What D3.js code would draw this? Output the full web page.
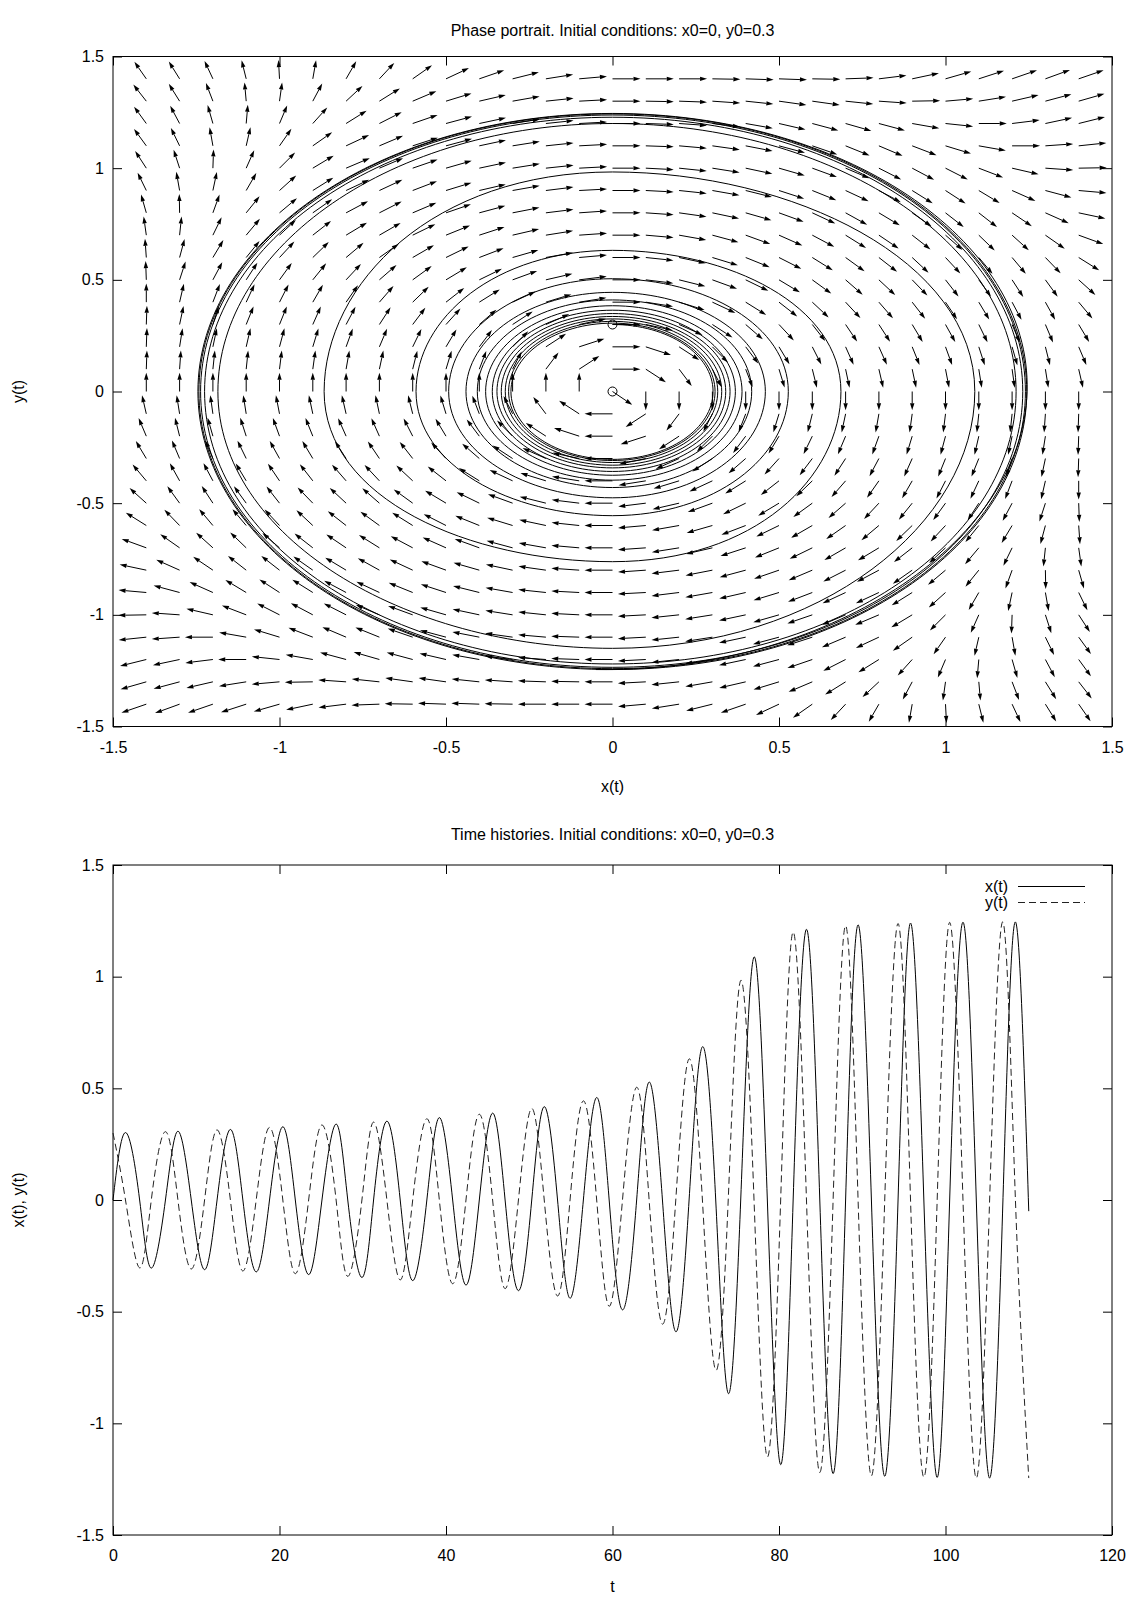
<!DOCTYPE html>
<html>
<head>
<meta charset="utf-8">
<script src="https://cdn.jsdelivr.net/npm/d3@7"></script>
<style>
body { margin: 0; background: #fff; }
svg text { font-family: "Liberation Sans", Arial, sans-serif; font-size: 16px; fill: #000; }
.tick line { stroke: #000; }
</style>
</head>
<body>
<svg id="chart" width="1139" height="1604"></svg>
<script>
// ---- data ----

// vector field grid (x left->right, y top->bottom)
const gridX = [-1.4,-1.3,-1.2,-1.1,-1.0,-0.9,-0.8,-0.7,-0.6,-0.5,-0.4,-0.3,-0.2,-0.1,0,
               0.1,0.2,0.3,0.4,0.5,0.6,0.7,0.8,0.9,1.0,1.1,1.2,1.3,1.4];
const gridY = [1.4,1.3,1.2,1.1,1.0,0.9,0.8,0.7,0.6,0.5,0.4,0.3,0.2,0.1,0,
               -0.1,-0.2,-0.3,-0.4,-0.5,-0.6,-0.7,-0.8,-0.9,-1.0,-1.1,-1.2,-1.3,-1.4];

// on-screen direction of each arrow, degrees (0 = right, 90 = up)
const arrowAngle = [
 [125,122,115,104,93,80,60, 47,35,25,19,14,9,5, 0, 0,0,-1,-2,-2,-1,2, 7,12,16,18,19,20,19],
 [128,122,111,95,82,62,43, 32,23,17,13,10,6,3, 0, -1,-2,-4,-6,-8,-8,-6, -4,1,5,9,13,15,16],
 [126,118,106,85,67,48,32, 27,19,15,12,9,6,3, 0, -2,-4,-7,-10,-13,-15,-16, -15,-10,-6,0,7,12,14],
 [126,116,100,77,55,35,25, 23,18,15,12,9,6,3, 0, -2,-5,-8,-11,-15,-19,-22, -23,-21,-17,-10,0,4,6],
 [123,108,88,66,45,31,23, 23,19,16,12,9,6,3, 0, -3,-6,-9,-12,-16,-20,-23, -27,-28,-27,-21,-13,-4,1],
 [116,100,78,60,42,32,25, 25,21,17,13,10,7,3, 0, -3,-6,-10,-14,-18,-22,-25, -28,-32,-33,-31,-24,-15,-5],
 [106,91,70,51,40,35,28, 27,23,19,15,11,7,4, 0, -4,-8,-12,-16,-20,-25,-29, -31,-35,-38,-38,-34,-24,-12],
 [98,84,64,50,43,38,31, 30,26,22,18,13,9,4, 0, -5,-10,-15,-20,-24,-28,-32, -34,-38,-41,-44,-42,-35,-20],
 [94,75,59,51,47,44,40, 35,30,26,21,16,10,5, 0, -6,-12,-17,-22,-27,-32,-36, -38,-43,-47,-50,-50,-46,-32],
 [92,72,62,57,54,51,47, 41,36,31,26,20,13,7, 0, -7,-14,-20,-26,-31,-36,-41, -43,-46,-52,-54,-57,-54,-42],
 [90,77,69,65,63,60,55, 49,44,38,32,25,17,9, 0, -9,-17,-25,-32,-38,-43,-47, -49,-52,-56,-59,-62,-61,-50],
 [88,78,72,68,68,66,62, 57,53,48,41,33,24,12, 0, -12,-24,-33,-41,-47,-52,-56, -57,-59,-61,-64,-67,-67,-59],
 [88,81,78,77,75,73,70, 67,64,59,53,45,33,18, 0, -18,-33,-45,-53,-59,-63,-66, -66,-68,-70,-72,-74,-76,-67],
 [88,86,84,84,83,82,80, 78,76,73,69,63,53,33, 0, -33,-53,-63,-69,-73,-76,-78, -77,-78,-79,-81,-82,-81,-77],
 [90,90,90,90,90,90,90, 90,90,90,90,90,90,90, -34, -90,-90,-90,-90,-90,-90,-90, -90,-90,-90,-90,-90,-90,-90],
 [103,99,98,99,101,102,103, 102,104,107,111,117,127,147, 180, -147,-127,-117,-111,-107,-104,-102, -100,-98,-97,-96,-96,-94,-92],
 [113,104,106,108,110,112,114, 114,117,121,127,135,147,162, 180, -162,-147,-135,-127,-121,-116,-113, -110,-107,-105,-103,-102,-99,-92],
 [121,113,113,116,119,121,123, 124,128,133,139,147,156,168, 180, -168,-156,-147,-139,-132,-127,-123, -118,-114,-112,-112,-108,-102,-92],
 [130,119,118,121,124,128,131, 133,137,142,148,155,163,171, 180, -171,-163,-155,-148,-142,-136,-131, -125,-120,-117,-115,-111,-103,-90],
 [138,126,123,126,128,134,137, 139,144,149,154,160,166,173, 180, -173,-167,-160,-154,-149,-144,-139, -133,-129,-126,-123,-118,-108,-88],
 [148,134,130,130,133,137,142, 144,148,153,158,163,168,174, 180, -175,-170,-164,-159,-154,-150,-145, -140,-136,-133,-129,-121,-105,-86],
 [160,145,138,136,139,142,146, 148,152,156,160,165,170,175, 180, -176,-171,-167,-162,-158,-154,-150, -149,-142,-137,-130,-116,-96,-82],
 [168,156,146,142,142,145,149, 151,155,160,164,168,172,176, 180, -176,-173,-169,-165,-161,-157,-153, -152,-145,-140,-129,-110,-89,-74],
 [175,165,156,149,147,148,152, 155,158,162,166,170,174,177, 180, -177,-173,-170,-167,-163,-159,-155, -155,-148,-138,-120,-102,-80,-64],
 [181,176,167,159,153,152,153, 157,160,164,168,171,174,177, 180, -177,-174,-171,-168,-164,-161,-157, -157,-149,-135,-114,-92,-72,-57],
 [186,184,180,170,163,159,157, 158,161,165,169,172,175,178, 180, -177,-174,-171,-168,-165,-162,-157, -155,-145,-125,-103,-80,-64,-54],
 [194,192,187,180,174,170,165, 164,165,167,170,173,176,178, 180, -177,-174,-171,-168,-165,-161,-153, -148,-132,-113,-95,-74,-62,-54],
 [196,195,193,189,185,181,176, 174,172,172,174,176,178,179, 180, -177,-174,-170,-167,-163,-157,-148, -137,-118,-98,-85,-69,-58,-52],
 [199,200,199,198,196,192,187, 182,179,178,178,179,180,180, 180, -175,-171,-166,-161,-155,-145,-133, -120,-100,-87,-76,-65,-58,-55]
];

// trajectory, sampled at its quarter-turn points (axis crossings / extrema)
const trajT = [0.0,1.5,3.2,4.6,6.3,7.8,9.4,11.0,12.5,14.1,15.6,17.2,18.8,20.4,21.9,23.5,25.1,26.8,28.2,29.9,
  31.3,32.9,34.5,36.0,37.7,39.2,40.8,42.4,44.0,45.6,47.1,48.7,50.3,51.8,53.4,54.9,56.5,58.1,59.6,61.2,
  62.9,64.4,66.0,67.6,69.2,70.8,72.4,73.9,75.4,77.0,78.6,80.2,81.7,83.3,84.9,86.5,88.0,89.5,91.1,92.7,
  94.3,95.8,97.4,99.0,100.5,102.1,103.7,105.3,106.9,108.4,110.0];
const trajX = [0,0.302,0,-0.305,0,0.308,0,-0.312,0,0.316,0,-0.322,0,0.328,0,-0.334,0,0.340,0,-0.347,
  0,0.353,0,-0.361,0,0.369,0,-0.381,0,0.389,0,-0.406,0,0.418,0,-0.440,0,0.459,0,-0.492,
  0,0.528,0,-0.590,0,0.686,0,-0.866,0,1.088,0,-1.185,0,1.212,0,-1.225,0,1.232,0,-1.237,
  0,1.240,0,-1.242,0,1.244,0,-1.245,0,1.245,-0.05];
const trajY = [0.300,0,-0.304,0,0.306,0,-0.309,0,0.314,0,-0.318,0,0.325,0,-0.330,0,0.336,0,-0.342,0,
  0.349,0,-0.358,0,0.364,0,-0.375,0,0.384,0,-0.397,0,0.410,0,-0.430,0,0.444,0,-0.476,0,
  0.505,0,-0.556,0,0.632,0,-0.762,0,0.983,0,-1.150,0,1.200,0,-1.220,0,1.228,0,-1.235,0,
  1.238,0,-1.241,0,1.243,0,-1.245,0,1.245,0,-1.245];

// marked points: initial condition and origin
const markX = [0, 0];
const markY = [0.3, 0];

const phaseTicks = [-1.5,-1,-0.5,0,0.5,1,1.5];
const timeTicks = [0,20,40,60,80,100,120];

// ---- layout ----
const svg = d3.select("#chart");
const box1 = {left:113, right:1112, top:56.5, bottom:726.5};
const box2 = {left:113, right:1112, top:865, bottom:1535};

const x1 = d3.scaleLinear().domain([-1.5,1.5]).range([box1.left, box1.right]);
const y1 = d3.scaleLinear().domain([-1.5,1.5]).range([box1.bottom, box1.top]);
const t2 = d3.scaleLinear().domain([0,120]).range([box2.left, box2.right]);
const y2 = d3.scaleLinear().domain([-1.5,1.5]).range([box2.bottom, box2.top]);

function frame(xs, ys, xt, yt, box)
{
    let g = svg.append("g");
    let fmt = d => String(d);

    g.append("g").attr("transform", "translate(0," + box.bottom + ")")
     .call(d3.axisBottom(xs).tickValues(xt).tickSize(-9).tickPadding(15).tickFormat(fmt));
    g.append("g").attr("transform", "translate(0," + box.top + ")")
     .call(d3.axisTop(xs).tickValues(xt).tickSize(-9).tickFormat(""));
    g.append("g").attr("transform", "translate(" + box.left + ",0)")
     .call(d3.axisLeft(ys).tickValues(yt).tickSize(-9).tickPadding(9).tickFormat(fmt));
    g.append("g").attr("transform", "translate(" + box.right + ",0)")
     .call(d3.axisRight(ys).tickValues(yt).tickSize(-9).tickFormat(""));

    g.selectAll(".domain").remove();
    g.selectAll(".tick text").attr("font-size", 16).attr("font-family", "Liberation Sans, Arial, sans-serif");

    g.append("rect")
     .attr("x", box.left).attr("y", box.top)
     .attr("width", box.right - box.left).attr("height", box.bottom - box.top)
     .attr("fill", "none").attr("stroke", "#000").attr("stroke-width", 1);
}

// curve for the spiral: cubic pieces through the quarter-turn samples,
// end pieces mirrored from their neighbour so they stay round
function spiralCurve(context)
{
    let pts = [];
    const k = 0.276;
    const ox = x1(0), oy = y1(0);

    function mirror(c, a, b)
    {
        let mx = (a[0] + b[0]) / 2, my = (a[1] + b[1]) / 2;
        let ux = ox - mx, uy = oy - my;
        let vx = b[0] - a[0], vy = b[1] - a[1];
        let qx = c[0] - mx, qy = c[1] - my;
        let det = ux * vy - uy * vx;
        let al = (qx * vy - qy * vx) / det;
        let be = (ux * qy - uy * qx) / det;
        return [mx + al * ux - be * vx, my + al * uy - be * vy];
    }

    return {
        areaStart: function(){}, areaEnd: function(){},
        lineStart: function(){ pts = []; },
        point: function(x, y){ pts.push([+x, +y]); },
        lineEnd: function(){
            let n = pts.length;
            if(!n) return;
            context.moveTo(pts[0][0], pts[0][1]);
            for (let i = 0; i < n - 1; i++) {
                let a = pts[i], b = pts[i + 1], c1 = null, c2 = null;
                if (i > 0)
                    c1 = [a[0] + k * (b[0] - pts[i - 1][0]), a[1] + k * (b[1] - pts[i - 1][1])];
                if (i < n - 2)
                    c2 = [b[0] - k * (pts[i + 2][0] - a[0]), b[1] - k * (pts[i + 2][1] - a[1])];
                if (!c1 && c2) c1 = mirror(c2, a, b);
                if (!c2 && c1) c2 = mirror(c1, a, b);
                if (!c1 && !c2) { context.lineTo(b[0], b[1]); continue; }
                context.bezierCurveTo(c1[0], c1[1], c2[0], c2[1], b[0], b[1]);
            }
        }
    };
}

// ---- phase portrait ----
frame(x1, y1, phaseTicks, phaseTicks, box1);

const arrowLen = 0.084;
const pxX = x1(1) - x1(0);
const pxY = y1(0) - y1(1);
let field = svg.append("g");

arrowAngle.forEach(function(row, i){
    row.forEach(function(a, j){
        if(a === null) return;
        let r = a * Math.PI / 180;
        let ux = Math.cos(r) / pxX, uy = Math.sin(r) / pxY;
        let n = Math.hypot(ux, uy);
        let gx = gridX[j], gy = gridY[i];
        let xa = x1(gx), ya = y1(gy);
        let xb = x1(gx + arrowLen * ux / n), yb = y1(gy + arrowLen * uy / n);
        let len = Math.hypot(xb - xa, yb - ya);
        let dx = (xb - xa) / len, dy = (yb - ya) / len;
        let hl = 7, hw = 2.2;
        let bx = xb - hl * dx, by = yb - hl * dy;

        field.append("line")
          .attr("x1", xa).attr("y1", ya).attr("x2", bx).attr("y2", by)
          .attr("stroke", "#000").attr("stroke-width", 1);
        field.append("path")
          .attr("d", "M" + xb + "," + yb + "L" + (bx - hw * dy) + "," + (by + hw * dx) +
                     "L" + (bx + hw * dy) + "," + (by - hw * dx) + "Z")
          .attr("fill", "#000");
    });
});

const phaseLine = d3.line()
    .x((d, k) => x1(trajX[k]))
    .y((d, k) => y1(trajY[k]))
    .curve(spiralCurve);

svg.append("path")
   .datum(trajT)
   .attr("d", phaseLine)
   .attr("fill", "none").attr("stroke", "#000").attr("stroke-width", 1);

svg.append("g").selectAll("circle")
   .data(markX)
   .join("circle")
   .attr("cx", d => x1(d))
   .attr("cy", (d, k) => y1(markY[k]))
   .attr("r", 4.5)
   .attr("fill", "none").attr("stroke", "#000").attr("stroke-width", 1);

svg.append("text").attr("x", 612.5).attr("y", 36).attr("text-anchor", "middle")
   .text("Phase portrait. Initial conditions: x0=0, y0=0.3");
svg.append("text").attr("x", 612.5).attr("y", 792).attr("text-anchor", "middle").text("x(t)");
svg.append("text").attr("transform", "translate(24,391.5) rotate(-90)").attr("text-anchor", "middle").text("y(t)");

// ---- time histories ----
frame(t2, y2, timeTicks, phaseTicks, box2);

const xLine = d3.line().x((d, k) => t2(d)).y((d, k) => y2(trajX[k])).curve(d3.curveNatural);
const yLine = d3.line().x((d, k) => t2(d)).y((d, k) => y2(trajY[k])).curve(d3.curveNatural);

svg.append("path").datum(trajT).attr("d", xLine)
   .attr("fill", "none").attr("stroke", "#000").attr("stroke-width", 1);
svg.append("path").datum(trajT).attr("d", yLine)
   .attr("fill", "none").attr("stroke", "#222").attr("stroke-width", 1)
   .attr("stroke-dasharray", "7,4");

// key
svg.append("text").attr("x", 1008).attr("y", 891.5).attr("text-anchor", "end").text("x(t)");
svg.append("line").attr("x1", 1018).attr("x2", 1085).attr("y1", 886.5).attr("y2", 886.5)
   .attr("stroke", "#000");
svg.append("text").attr("x", 1008).attr("y", 907.5).attr("text-anchor", "end").text("y(t)");
svg.append("line").attr("x1", 1018).attr("x2", 1085).attr("y1", 902.5).attr("y2", 902.5)
   .attr("stroke", "#222").attr("stroke-dasharray", "7,4");

svg.append("text").attr("x", 612.5).attr("y", 839.5).attr("text-anchor", "middle")
   .text("Time histories. Initial conditions: x0=0, y0=0.3");
svg.append("text").attr("x", 612.5).attr("y", 1592).attr("text-anchor", "middle").text("t");
svg.append("text").attr("transform", "translate(24,1200) rotate(-90)").attr("text-anchor", "middle").text("x(t), y(t)");
</script>
</body>
</html>
